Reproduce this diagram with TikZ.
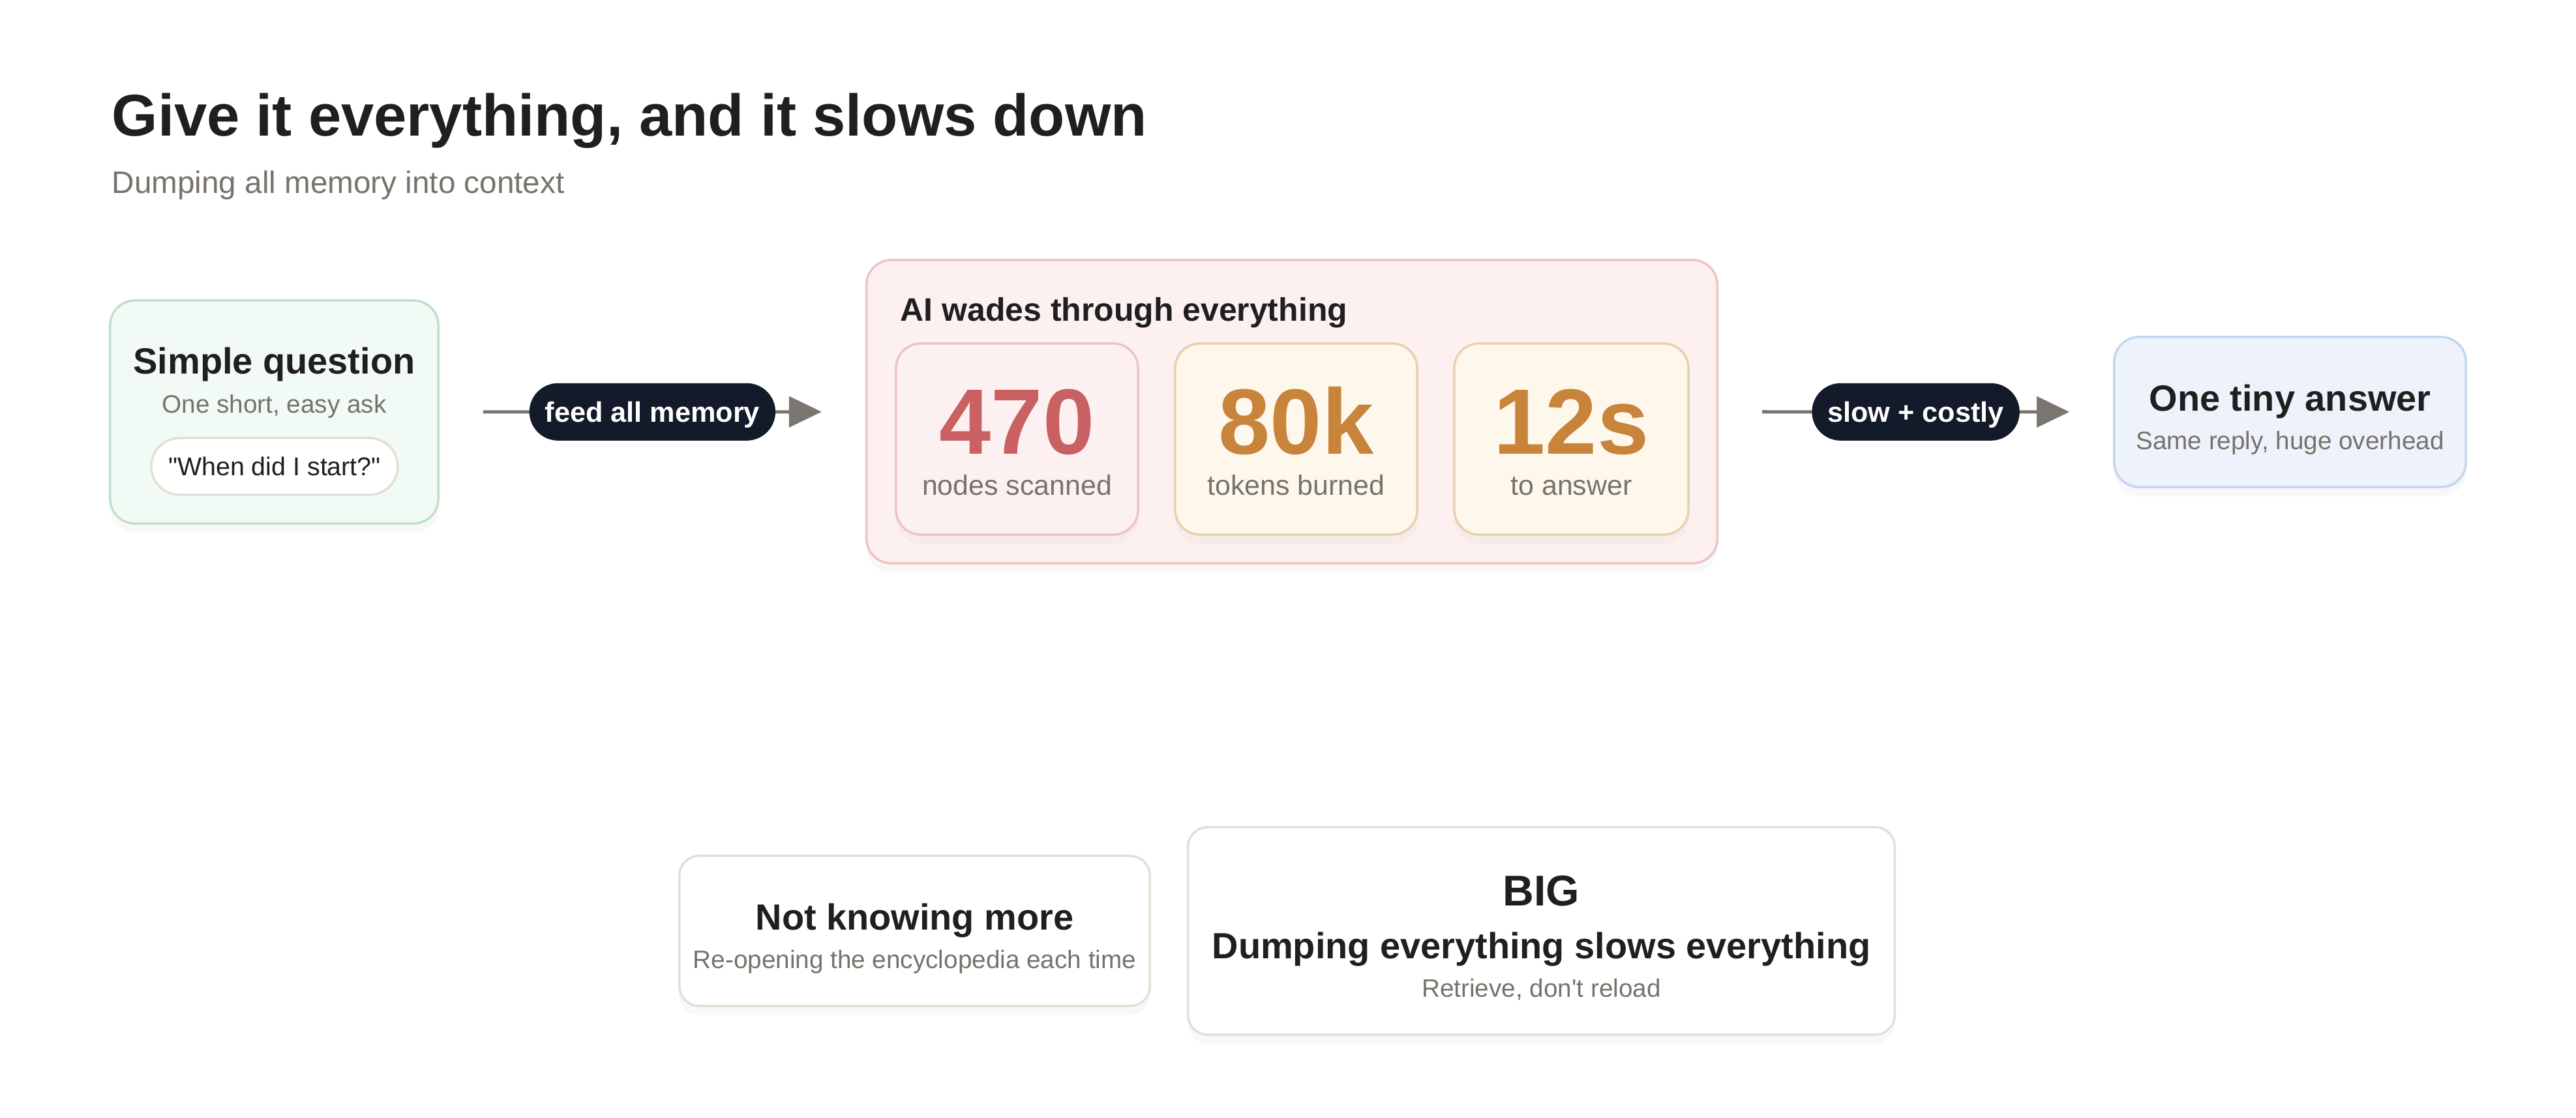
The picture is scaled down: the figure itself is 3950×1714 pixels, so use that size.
\documentclass[tikz,border=0pt]{standalone}
\usepackage{fontspec}
\defaultfontfeatures[\rmfamily]{}
\setmainfont{Liberation Sans}
\usetikzlibrary{shadows}
\usetikzlibrary{arrows.meta}
\usetikzlibrary{positioning}

\definecolor{ink}{HTML}{1F1F1F}
\definecolor{mute}{HTML}{77736B}
\definecolor{navy}{HTML}{131A29}
\definecolor{flowgray}{HTML}{7A766F}
\definecolor{greenbg}{HTML}{F2FAF5}
\definecolor{greenln}{HTML}{BFE1C9}
\definecolor{pinkbg}{HTML}{FDF0F0}
\definecolor{pinkln}{HTML}{EEC3C3}
\definecolor{creambg}{HTML}{FEF7EC}
\definecolor{creamln}{HTML}{E8D2AE}
\definecolor{bluebg}{HTML}{EEF2FB}
\definecolor{blueln}{HTML}{C3D6F0}
\definecolor{sand}{HTML}{E4DFD4}
\definecolor{hotred}{HTML}{C96062}
\definecolor{amber}{HTML}{C8843B}

\tikzset{
  panel/.style={rounded corners=0.38cm, line width=0.035cm, inner sep=0pt,
    drop shadow={opacity=0.05, shadow xshift=0cm, shadow yshift=-0.14cm}},
  slab/.style={panel, rounded corners=0.3cm, fill=white, draw=sand},
  heading/.style={anchor=base, inner sep=0pt, text=ink, font=\fontsize{15.9}{18}\selectfont\bfseries},
  note/.style={anchor=base, inner sep=0pt, text=mute, font=\fontsize{11}{13}\selectfont},
  stat/.style={anchor=base, inner sep=0pt, font=\fontsize{40.5}{46}\selectfont\bfseries},
  statlabel/.style={anchor=base, inner sep=0pt, text=mute, font=\fontsize{12.2}{14}\selectfont},
  tag/.style={fill=navy, text=white, rounded corners=0.44cm, minimum height=0.88cm,
    inner xsep=0.24cm, inner ysep=0pt, text height=8.8pt, text depth=0pt,
    font=\fontsize{12.3}{14}\selectfont\bfseries},
  flow/.style={draw=flowgray, line width=0.05cm,
    -{Triangle[length=0.5cm,width=0.47cm]}, shorten <=0.67cm, shorten >=0.67cm}
}

\begin{document}
\begin{tikzpicture}[x=0.01cm, y=-0.01cm]

    \useasboundingbox[fill=white] (0,0) rectangle (3950,1714);

    % heading
    \node[anchor=base west, inner sep=0pt, text=ink, font=\fontsize{25.7}{30}\selectfont\bfseries] (title) at (171,208) {Give it everything, and it slows down};
    \node[anchor=base west, inner sep=0pt, text=mute, font=\fontsize{13.55}{16}\selectfont] (subtitle) at (171,296) {Dumping all memory into context};

    % the question
    \node[panel, fill=greenbg, draw=greenln, minimum width=5.03cm, minimum height=3.42cm] (ask) at (420.5,632) {};
    \node[heading] (askhead) at (420.5,573) {Simple question};
    \node[note] (asknote) at (420.5,633) {One short, easy ask};
    \node[fill=white, draw=sand, line width=0.035cm, rounded corners=0.435cm, minimum width=3.78cm, minimum height=0.87cm, inner sep=0pt, text height=8pt, text depth=0pt, text=ink, font=\fontsize{11.2}{13}\selectfont] (askpill) at (421,715.5) {"When did I start?"};

    % the AI reading everything
    \node[panel, fill=pinkbg, draw=pinkln, minimum width=13.04cm, minimum height=4.65cm] (wade) at (1981,631.5) {};
    \node[anchor=base west, inner sep=0pt, text=ink, font=\fontsize{14.2}{17}\selectfont\bfseries] (wadehead) at (1380,492) {AI wades through everything};

    \node[panel, fill=pinkbg, draw=pinkln, minimum width=3.71cm, minimum height=2.93cm] (scan) at (1559.5,673.5) {};
    \node[stat, text=hotred] (scannum) at (1559.5,696) {470};
    \node[statlabel] (scanlabel) at (1559.5,759) {nodes scanned};

    \node[panel, fill=creambg, draw=creamln, minimum width=3.71cm, minimum height=2.93cm] (burn) at (1987.5,673.5) {};
    \node[stat, text=amber] (burnnum) at (1987.5,696) {80k};
    \node[statlabel] (burnlabel) at (1987.5,759) {tokens burned};

    \node[panel, fill=creambg, draw=creamln, minimum width=3.59cm, minimum height=2.93cm] (wait) at (2409.5,673.5) {};
    \node[stat, text=amber] (waitnum) at (2409.5,696) {12s};
    \node[statlabel] (waitlabel) at (2409.5,759) {to answer};

    % the answer
    \node[panel, fill=bluebg, draw=blueln, minimum width=5.39cm, minimum height=2.30cm] (reply) at (3511.5,632) {};
    \node[heading] (replyhead) at (3511.5,630) {One tiny answer};
    \node[note] (replynote) at (3511.5,689) {Same reply, huge overhead};

    \draw[flow] (ask) -- node[tag] (feed) {feed all memory} (wade);
    \draw[flow] (wade) -- node[tag] (cost) {slow + costly} (reply);

    % takeaways
    \node[slab, minimum width=7.21cm, minimum height=2.30cm] (lack) at (1402.5,1428) {};
    \node[heading] (lackhead) at (1402.5,1426) {Not knowing more};
    \node[note] (lacknote) at (1402.5,1485) {Re-opening the encyclopedia each time};

    \node[slab, minimum width=10.83cm, minimum height=3.18cm] (lesson) at (2363.5,1428) {};
    \node[anchor=base, inner sep=0pt, text=ink, font=\fontsize{18.8}{22}\selectfont\bfseries] (lessonbig) at (2363.5,1389) {BIG};
    \node[heading] (lessonhead) at (2363.5,1470) {Dumping everything slows everything};
    \node[note] (lessonnote) at (2363.5,1529) {Retrieve, don't reload};

\end{tikzpicture}
\end{document}
